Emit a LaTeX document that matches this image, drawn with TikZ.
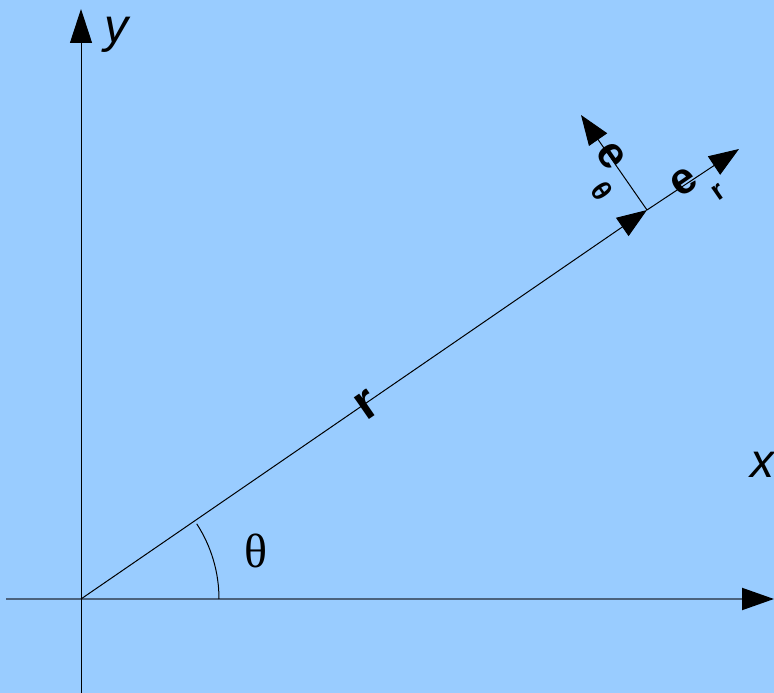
\documentclass[tikz,border=0pt]{standalone}
\usepackage{fontspec}
\setmainfont{Liberation Sans}
\newfontfamily\greekserif{Liberation Serif}
\usepackage{tikz}
\usetikzlibrary{arrows.meta}
\usepackage{xcolor}
\definecolor{skyblue}{RGB}{153,204,255}
\definecolor{axisgray}{RGB}{75,98,125}

\begin{document}
\begin{tikzpicture}[
    x=1pt, y=1pt,
    vec/.style={line width=1pt, -{Triangle[length=30pt, width=22pt]}},
    axislbl/.style={inner sep=0pt, font=\fontsize{48}{48}\selectfont\itshape},
    vecname/.style={inner sep=0pt, font=\fontsize{44}{44}\selectfont\bfseries},
    subname/.style={inner sep=0pt, font=\fontsize{28}{28}\selectfont\bfseries}
]
\fill[skyblue] (0,0) rectangle (774,693);
\useasboundingbox (0,0) rectangle (774,693);

\coordinate (O) at (81,94);
\coordinate (xstart) at (6,94);
\coordinate (xend) at (774,94);
\coordinate (ystart) at (81,0);
\coordinate (yend) at (81,684);
\coordinate (P) at (647,483);
\coordinate (er) at (739,544);
\coordinate (eth) at (581,578);

\draw[axisgray, line width=2pt, -{Triangle[length=32pt, width=22pt, color=black]}] (xstart) -- (xend);
\draw[line width=1pt, -{Triangle[length=34pt, width=22pt]}] (ystart) -- (yend);

\draw[vec] (O) -- (P);
\draw[vec] (P) -- (er);
\draw[vec] (P) -- (eth);
\draw[line width=1pt] (O) ++(138,0) arc[start angle=0, end angle=33, radius=138];

\node[axislbl] (ylabel) at (116,658) {y};
\node[axislbl] (xlabel) at (762,228) {x};
\node[inner sep=0pt, font=\greekserif\fontsize{48}{48}\selectfont] (angle) at (256,142) {θ};
\node[vecname, font=\fontsize{50}{50}\selectfont\bfseries, rotate=34.6] (rlabel) at (367,288) {r};
\node[vecname, rotate=34.6] (erlabel) at (684,511) {e};
\node[subname, rotate=34.6] (ersub) at (719,501) {r};
\node[vecname, rotate=-55.4] (ethlabel) at (611,537) {e};
\node[subname, rotate=-55.4] (ethsub) at (602,502) {θ};
\end{tikzpicture}
\end{document}
